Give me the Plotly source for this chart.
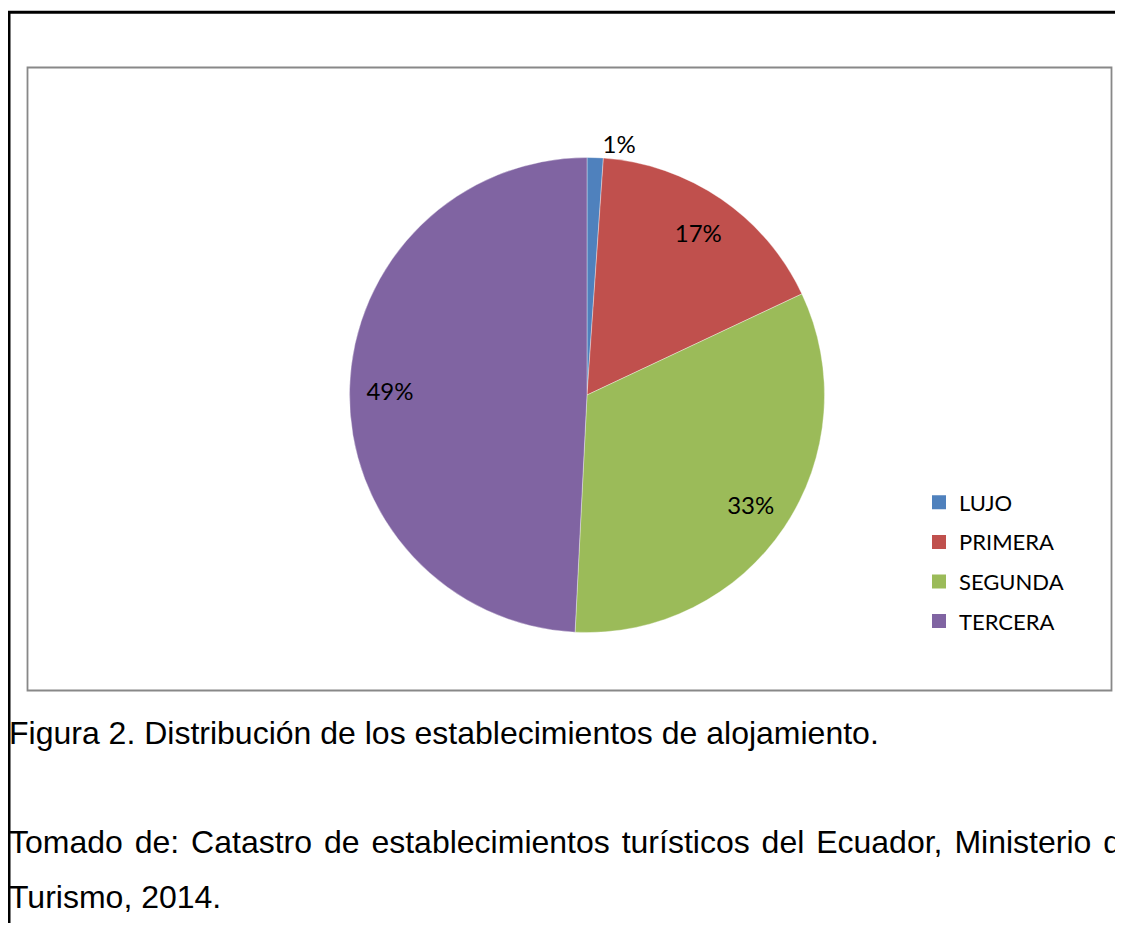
import plotly.graph_objects as go

# ---- data ----
categories = ["LUJO", "PRIMERA", "SEGUNDA", "TERCERA"]
values = [1.1, 16.9, 32.8, 49.2]
colors = ["#4F81BD", "#C0504D", "#9BBB59", "#8064A2"]
caption1 = "Figura 2. Distribución de los establecimientos de alojamiento."
caption2 = "Tomado de: Catastro de establecimientos turísticos del Ecuador, Ministerio de"
caption3 = "Turismo, 2014."

# the page body adds an 8px margin, so the figure is drawn 8px smaller on each side
OFF = 8
W, H = 1123 - 2 * OFF, 931 - 2 * OFF


def px(x):
    """page x pixel -> paper fraction"""
    return (x - OFF) / W


def py(y):
    """page y pixel -> paper fraction"""
    return 1 - (y - OFF) / H


cx, cy, r = 587, 395, 237.5
dom = dict(x=[px(cx - r), px(cx + r)], y=[py(cy + r), py(cy - r)])
label_font = dict(family="Lato", size=24, color="black")

fig = go.Figure()

# main pie (only the small slice labelled outside)
fig.add_trace(go.Pie(
    labels=categories, values=values, sort=False, direction="clockwise",
    marker=dict(colors=colors, line=dict(color="rgba(255,255,255,0.6)", width=0.6)),
    texttemplate="%{percent:.0%}",
    textposition=["outside", "none", "none", "none"],
    textfont=label_font,
    domain=dom, showlegend=False, hoverinfo="label+percent",
))

# transparent ring overlay to place the inner labels near the rim
fig.add_trace(go.Pie(
    labels=categories, values=values, sort=False, direction="clockwise",
    hole=0.66,
    marker=dict(colors=["rgba(0,0,0,0)"] * 4, line=dict(width=0)),
    texttemplate="%{percent:.0%}",
    textposition=["none", "inside", "inside", "inside"],
    insidetextorientation="horizontal",
    textfont=label_font,
    domain=dom, showlegend=False, hoverinfo="skip",
))

# legend entries
for name, col in zip(categories, colors):
    fig.add_trace(go.Scatter(
        x=[None], y=[None], mode="markers", name=name, legendgroup=name,
        marker=dict(symbol="square", size=14, color=col),
        hoverinfo="skip",
    ))

shapes = [
    # outer black frame
    dict(type="line", xref="paper", yref="paper", x0=px(9), x1=px(9), y0=py(11), y1=py(960),
         line=dict(color="black", width=3)),
    dict(type="line", xref="paper", yref="paper", x0=px(7.5), x1=px(1200), y0=py(12.3), y1=py(12.3),
         line=dict(color="black", width=3)),
    # chart area box
    dict(type="rect", xref="paper", yref="paper", x0=px(27.5), x1=px(1111.5), y0=py(690.5), y1=py(67.5),
         line=dict(color="#888888", width=1.8)),
]

cap_font = dict(family="Liberation Sans", size=32, color="black")
annotations = [
    dict(text=caption1, xref="paper", yref="paper", x=px(7), y=py(733), xanchor="left", yanchor="middle",
         showarrow=False, font=cap_font),
    dict(text='<span style="word-spacing:3px">' + caption2 + '</span>', xref="paper", yref="paper",
         x=px(7), y=py(842), xanchor="left", yanchor="middle", showarrow=False, font=cap_font),
    dict(text=caption3, xref="paper", yref="paper", x=px(7), y=py(897), xanchor="left", yanchor="middle",
         showarrow=False, font=cap_font),
]

fig.update_layout(
    width=W, height=H,
    margin=dict(l=0, r=0, t=0, b=0),
    paper_bgcolor="white", plot_bgcolor="white",
    xaxis=dict(visible=False), yaxis=dict(visible=False),
    shapes=shapes, annotations=annotations,
    legend=dict(x=px(919), y=py(562), xanchor="left", yanchor="middle",
                font=dict(family="Lato", size=22, color="black"),
                tracegroupgap=8, itemwidth=30, bgcolor="rgba(0,0,0,0)"),
    showlegend=True,
)

fig.write_html("out.html")
